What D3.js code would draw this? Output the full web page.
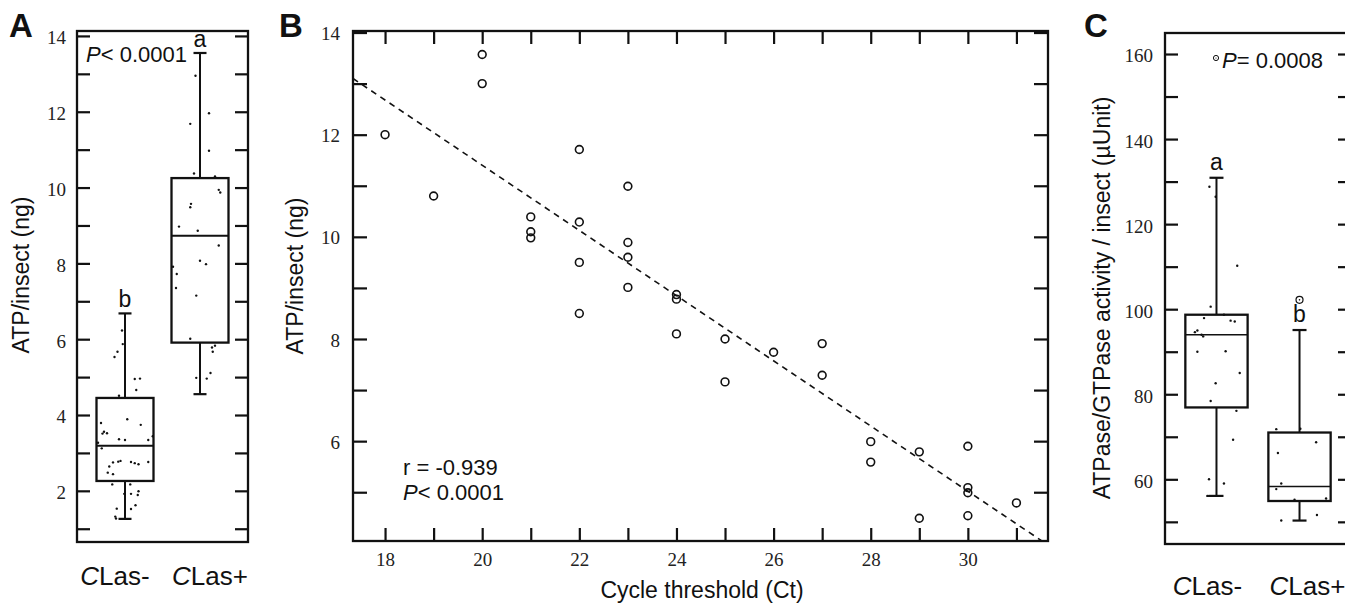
<!DOCTYPE html>
<html>
<head>
    <title>ATP and ATPase/GTPase in CLas- and CLas+ insects</title>
    <script src="https://d3js.org/d3.v7.min.js"></script>
    <style>
        body {
            margin: 0;
            background-color: white;
        }
        .sans { font-family: "Liberation Sans", Arial, sans-serif; fill: #111; }
        .tick text { font-family: "Liberation Serif", "Times New Roman", serif; font-size: 19px; fill: #222; }
    </style>
</head>
<body>
    <div id="chart"></div>
    <script>
        // ---- data ----
        const groups = ["CLas-", "CLas+"];

        // panel A: ATP per insect (ng), box stats
        const atpMin = [1.26, 4.55];
        const atpQ1 = [2.26, 5.91];
        const atpMedian = [3.19, 8.73];
        const atpQ3 = [4.45, 10.25];
        const atpMax = [6.68, 13.55];
        const atpLetters = ["b", "a"];
        // [jitter (fraction of category step), value]
        const atpNegPoints = [
            [-0.04, 6.23], [-0.03, 5.87], [-0.10, 5.67], [-0.14, 5.53], [0.13, 4.95], [0.20, 4.96],
            [0.15, 4.66], [-0.08, 4.51], [0.03, 3.89], [-0.32, 3.79], [0.21, 3.74], [-0.30, 3.51],
            [-0.28, 3.56], [-0.24, 3.52], [-0.08, 3.36], [0.00, 3.34], [0.31, 3.34], [0.37, 3.44],
            [-0.36, 3.27], [-0.31, 3.12], [-0.16, 2.75], [-0.09, 2.77], [-0.06, 2.79], [0.08, 2.76],
            [0.13, 2.73], [0.18, 2.70], [0.31, 2.76], [-0.21, 2.64], [-0.23, 2.48], [-0.16, 2.44],
            [-0.17, 2.17], [0.07, 2.17], [0.08, 1.92], [-0.01, 1.92], [0.18, 1.99], [0.17, 1.89],
            [-0.11, 1.53], [0.08, 1.52], [0.14, 1.62], [-0.13, 1.32], [-0.12, 1.27]
        ];
        const atpPosPoints = [
            [-0.06, 12.95], [0.12, 11.96], [-0.13, 11.68], [0.12, 10.97], [-0.08, 10.37], [0.20, 10.29],
            [0.25, 9.94], [0.27, 9.87], [-0.12, 9.57], [-0.13, 9.48], [-0.28, 8.97], [-0.03, 8.86],
            [0.25, 8.47], [0.00, 8.07], [0.08, 7.98], [-0.36, 7.91], [-0.31, 7.72], [-0.32, 7.35],
            [-0.05, 7.15], [-0.13, 6.01], [0.20, 5.83], [0.16, 5.78], [0.17, 5.67], [-0.05, 4.98],
            [0.09, 4.96], [0.14, 5.11]
        ];

        // panel B: cycle threshold vs ATP per insect
        const ct = [18, 19, 20, 20, 21, 21, 21, 22, 22, 22, 22, 23, 23, 23, 23,
                    24, 24, 24, 25, 25, 26, 27, 27, 28, 28, 29, 29, 30, 30, 30, 30, 31];
        const atpCt = [12.0, 10.8, 13.57, 13.0, 10.39, 10.1, 9.98, 11.71, 10.29, 9.5, 8.5, 10.99, 9.89, 9.6, 9.01,
                       8.87, 8.78, 8.1, 8.0, 7.16, 7.74, 7.91, 7.29, 5.99, 5.59, 5.79, 4.49, 5.9, 5.09, 4.99, 4.54, 4.79];
        const trendCt = [17.34, 31.55];
        const trendAtp = [13.1, 4.03];

        // panel C: ATPase/GTPase activity per insect (µUnit)
        const aseMin = [56.1, 50.3];
        const aseQ1 = [76.9, 54.9];
        const aseMedian = [94.0, 58.3];
        const aseQ3 = [98.7, 71.0];
        const aseMax = [130.9, 95.1];
        const aseOutliers = [[], [102.2]];
        const aseLetters = ["a", "b"];
        const aseNegPoints = [
            [-0.085, 128.8], [-0.01, 126.45], [0.25, 110.2], [-0.07, 100.6], [-0.15, 97.9], [0.09, 98.7],
            [0.17, 97.3], [0.22, 97.1], [-0.23, 95.0], [-0.26, 94.6], [-0.18, 94.0], [-0.16, 93.6],
            [-0.23, 90.0], [0.11, 90.1], [0.28, 85.0], [-0.01, 82.6], [-0.07, 78.4], [0.24, 76.1],
            [0.20, 69.3], [-0.09, 60.0], [0.09, 59.0], [-0.11, 56.1], [-0.09, 56.1]
        ];
        const asePosPoints = [
            [-0.28, 71.8], [0.01, 71.9], [0.20, 68.7], [-0.26, 66.2], [-0.22, 59.0], [-0.28, 57.7],
            [-0.06, 55.2], [0.32, 55.5], [-0.22, 50.3], [0.21, 51.6]
        ];

        // ---- drawing ----
        const W = 1345, H = 605;
        const svg = d3.select('#chart').append('svg')
            .attr('width', W).attr('height', H)
            .attr('class', 'sans');

        function panelLetter(txt, x) {
            svg.append('text').attr('x', x).attr('y', 37)
                .attr('font-size', 33).attr('font-weight', 'bold').text(txt);
        }

        function yLabel(txt, x, yc) {
            svg.append('text')
                .attr('transform', `translate(${x},${yc}) rotate(-90)`)
                .attr('text-anchor', 'middle').attr('font-size', 23).text(txt);
        }

        function frame(l, t, r, b) {
            svg.append('rect').attr('x', l).attr('y', t)
                .attr('width', r - l).attr('height', b - t)
                .attr('fill', 'none').attr('stroke', '#111').attr('stroke-width', 2.3);
        }

        // strip the domain path, thicken ticks
        function styleAxis(g) {
            g.select('.domain').remove();
            g.selectAll('.tick line').attr('stroke', '#111').attr('stroke-width', 2.2);
            return g;
        }

        function pText(x, y, rest, fs) {
            const t = svg.append('text').attr('x', x).attr('y', y).attr('font-size', fs || 22);
            t.append('tspan').attr('font-style', 'italic').text('P');
            t.append('tspan').text(rest);
        }

        function boxPanel(o) {
            const y = d3.scaleLinear().domain(o.yDomain).range([o.b, o.t]);
            const x = d3.scalePoint().domain(groups).range([o.l, o.r]).padding(o.pad);
            const step = x.step();

            const left = svg.append('g').attr('transform', `translate(${o.l},0)`)
                .call(d3.axisLeft(y).tickValues(o.ticks).tickSize(-13).tickPadding(o.tickPad)
                    .tickFormat(d => (d % o.labelEvery === 0 ? d : '')));
            styleAxis(left).selectAll('text').attr('dy', '0.42em');
            const right = svg.append('g').attr('transform', `translate(${o.r},0)`)
                .call(d3.axisRight(y).tickValues(o.ticks).tickSize(-13).tickFormat(''));
            styleAxis(right);

            frame(o.l, o.t, o.r, o.b);

            const bw = step * o.boxFrac, cap = o.cap;
            groups.forEach((g, i) => {
                const cx = x(g);
                const gg = svg.append('g');
                gg.append('line').attr('x1', cx).attr('x2', cx)
                    .attr('y1', y(o.max[i])).attr('y2', y(o.q3[i]))
                    .attr('stroke', '#111').attr('stroke-width', 2);
                gg.append('line').attr('x1', cx).attr('x2', cx)
                    .attr('y1', y(o.q1[i])).attr('y2', y(o.min[i]))
                    .attr('stroke', '#111').attr('stroke-width', 2);
                [o.max[i], o.min[i]].forEach(v => {
                    gg.append('line').attr('x1', cx - cap / 2).attr('x2', cx + cap / 2)
                        .attr('y1', y(v)).attr('y2', y(v))
                        .attr('stroke', '#111').attr('stroke-width', 2.2);
                });
                gg.append('rect').attr('x', cx - bw / 2).attr('y', y(o.q3[i]))
                    .attr('width', bw).attr('height', y(o.q1[i]) - y(o.q3[i]))
                    .attr('fill', 'none').attr('stroke', '#111').attr('stroke-width', 2.3);
                gg.append('line').attr('x1', cx - bw / 2).attr('x2', cx + bw / 2)
                    .attr('y1', y(o.median[i])).attr('y2', y(o.median[i]))
                    .attr('stroke', '#111').attr('stroke-width', o.medW);

                gg.selectAll('circle.pt').data(o.points[i]).enter().append('circle')
                    .attr('class', 'pt')
                    .attr('cx', d => cx + d[0] * step)
                    .attr('cy', d => y(d[1]))
                    .attr('r', 1.2).attr('fill', '#111');

                (o.outliers ? o.outliers[i] : []).forEach(v => {
                    gg.append('circle').attr('cx', cx).attr('cy', y(v)).attr('r', 3.5)
                        .attr('fill', 'none').attr('stroke', '#111').attr('stroke-width', 1.2);
                    gg.append('circle').attr('cx', cx).attr('cy', y(v)).attr('r', 0.8).attr('fill', '#111');
                });

                gg.append('text').attr('x', cx).attr('y', y(o.max[i]) - o.letterGap)
                    .attr('text-anchor', 'middle').attr('font-size', 23).text(o.letters[i]);

                const lab = svg.append('text').attr('x', cx + o.labShift[i]).attr('y', o.labY)
                    .attr('text-anchor', 'middle').attr('font-size', 26);
                lab.append('tspan').attr('font-style', 'italic').text(g.charAt(0));
                lab.append('tspan').text(g.slice(1));
            });
        }

        // Panel A
        panelLetter('A', 9);
        yLabel('ATP/insect (ng)', 29, 275);
        boxPanel({
            l: 77, r: 248, t: 31, b: 542, yDomain: [0.65, 14.13], pad: 0.64,
            ticks: d3.range(1, 15), labelEvery: 2, tickPad: 11,
            min: atpMin, q1: atpQ1, median: atpMedian, q3: atpQ3, max: atpMax,
            points: [atpNegPoints, atpPosPoints], letters: atpLetters, letterGap: 6,
            boxFrac: 0.76, cap: 13, medW: 2, labY: 585, labShift: [-10, 10]
        });
        pText(86, 62, '< 0.0001');

        // Panel B
        panelLetter('B', 279);
        yLabel('ATP/insect (ng)', 303, 276);
        const bl = 353, br = 1048, bt = 31, bb = 541;
        const xB = d3.scaleLinear().domain([17.34, 31.65]).range([bl, br]);
        const yB = d3.scaleLinear().domain([4.045, 14.03]).range([bb, bt]);
        const xTicks = d3.range(18, 32), yTicks = d3.range(5, 15);

        styleAxis(svg.append('g').attr('transform', `translate(0,${bb})`)
            .call(d3.axisBottom(xB).tickValues(xTicks).tickSize(-13).tickPadding(12)
                .tickFormat(d => (d % 2 === 0 ? d : ''))));
        styleAxis(svg.append('g').attr('transform', `translate(0,${bt})`)
            .call(d3.axisTop(xB).tickValues(xTicks).tickSize(-13).tickFormat('')));
        styleAxis(svg.append('g').attr('transform', `translate(${bl},0)`)
            .call(d3.axisLeft(yB).tickValues(yTicks).tickSize(-14).tickPadding(13)
                .tickFormat(d => (d % 2 === 0 ? d : ''))))
            .selectAll('text').attr('dy', '0.37em');
        styleAxis(svg.append('g').attr('transform', `translate(${br},0)`)
            .call(d3.axisRight(yB).tickValues(yTicks).tickSize(-14).tickFormat('')));
        frame(bl, bt, br, bb);

        svg.append('clipPath').attr('id', 'clipB').append('rect')
            .attr('x', bl).attr('y', bt).attr('width', br - bl).attr('height', bb - bt);
        svg.append('path')
            .datum(trendCt.map((c, i) => [c, trendAtp[i]]))
            .attr('clip-path', 'url(#clipB)')
            .attr('d', d3.line().x(d => xB(d[0])).y(d => yB(d[1])))
            .attr('fill', 'none').attr('stroke', '#111').attr('stroke-width', 1.6)
            .attr('stroke-dasharray', '6,5');

        svg.append('g').selectAll('circle')
            .data(ct.map((c, i) => [c, atpCt[i]]))
            .enter().append('circle')
            .attr('cx', d => xB(d[0])).attr('cy', d => yB(d[1]))
            .attr('r', 3.9).attr('fill', 'none').attr('stroke', '#111').attr('stroke-width', 1.6);

        svg.append('text').attr('x', 403).attr('y', 475).attr('font-size', 22).text('r = -0.939');
        pText(403, 500, '< 0.0001');
        svg.append('text').attr('x', 702).attr('y', 598).attr('text-anchor', 'middle')
            .attr('font-size', 23).text('Cycle threshold (Ct)');

        // Panel C
        panelLetter('C', 1084);
        yLabel('ATPase/GTPase activity / insect (\u00b5Unit)', 1110, 298);
        boxPanel({
            l: 1165, r: 1351, t: 33, b: 544, yDomain: [44.79, 164.94], pad: 0.62,
            ticks: d3.range(50, 161, 10), labelEvery: 20, tickPad: 12,
            min: aseMin, q1: aseQ1, median: aseMedian, q3: aseQ3, max: aseMax,
            points: [aseNegPoints, asePosPoints], outliers: aseOutliers,
            letters: aseLetters, letterGap: 8,
            boxFrac: 0.75, cap: 14, medW: 1.6, labY: 595, labShift: [-9, 8]
        });
        svg.append('circle').attr('cx', 1216).attr('cy', 58).attr('r', 2.6)
            .attr('fill', 'none').attr('stroke', '#111').attr('stroke-width', 1);
        svg.append('circle').attr('cx', 1216).attr('cy', 58).attr('r', 0.6).attr('fill', '#111');
        pText(1222, 68, '= 0.0008');
    </script>
</body>
</html>
